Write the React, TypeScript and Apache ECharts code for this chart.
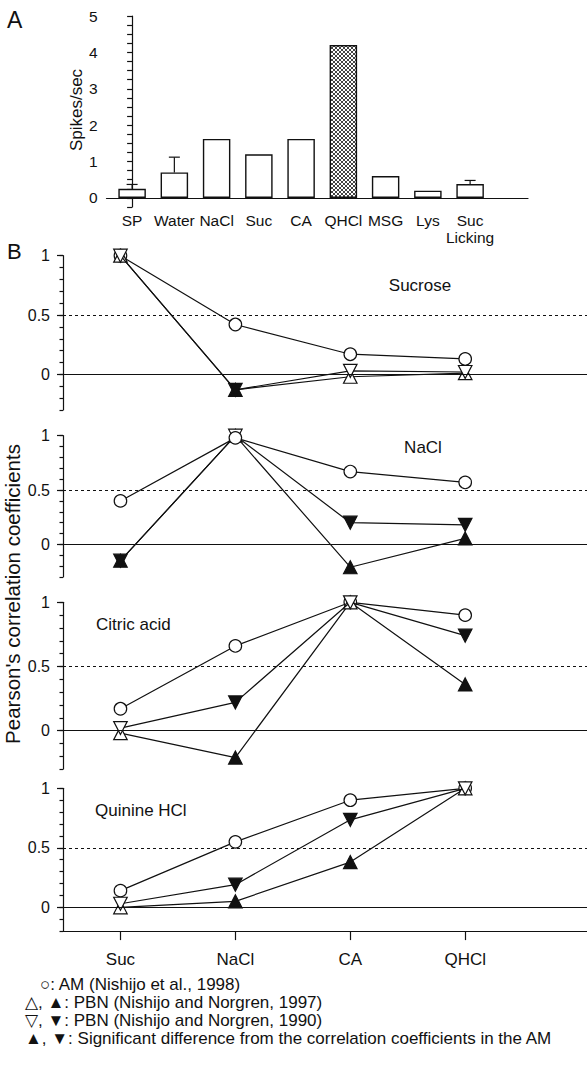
import React, { useEffect, useRef } from 'react';
import * as echarts from 'echarts';

// ---------- Panel A data ----------
const stimuli = ['SP', 'Water', 'NaCl', 'Suc', 'CA', 'QHCl', 'MSG', 'Lys', 'Suc\nLicking'];
const spikes = [0.25, 0.7, 1.62, 1.2, 1.62, 4.2, 0.6, 0.2, 0.38];
const spikesErrTop = [0.37, 1.12, null, null, null, null, null, null, 0.48];
const spikeTickLabels = ['0', '1', '2', '3', '4', '5'];

// ---------- Panel B data ----------
const tastants = ['Suc', 'NaCl', 'CA', 'QHCl'];
const panelTitles = ['Sucrose', 'NaCl', 'Citric acid', 'Quinine HCl'];
const corrTickLabels = ['0', '0.5', '1'];

const amSucrose = [1, 0.42, 0.17, 0.13];
const pbn97Sucrose = [1, -0.13, -0.02, 0.01];
const sig97Sucrose = [false, true, false, false];
const pbn90Sucrose = [1, -0.13, 0.03, 0.02];
const sig90Sucrose = [false, true, false, false];

const amNaCl = [0.4, 0.98, 0.67, 0.57];
const pbn97NaCl = [-0.15, 1, -0.21, 0.055];
const sig97NaCl = [true, false, true, true];
const pbn90NaCl = [-0.15, 1, 0.2, 0.18];
const sig90NaCl = [true, false, true, true];

const amCitric = [0.17, 0.66, 1, 0.9];
const pbn97Citric = [-0.02, -0.21, 1, 0.36];
const sig97Citric = [false, true, false, true];
const pbn90Citric = [0.02, 0.22, 1, 0.74];
const sig90Citric = [false, true, false, true];

const amQuinine = [0.14, 0.55, 0.9, 1];
const pbn97Quinine = [0.0, 0.05, 0.38, 1];
const sig97Quinine = [false, true, true, false];
const pbn90Quinine = [0.03, 0.19, 0.735, 1];
const sig90Quinine = [false, true, true, false];

const legendLines = [
  '○: AM (Nishijo et al., 1998)',
  '△, ▲: PBN (Nishijo and Norgren, 1997)',
  '▽, ▼: PBN (Nishijo and Norgren, 1990)',
  '▲, ▼: Significant difference from the correlation coefficients in the AM',
];

const panels = [
  { am: amSucrose, p97: pbn97Sucrose, s97: sig97Sucrose, p90: pbn90Sucrose, s90: sig90Sucrose },
  { am: amNaCl, p97: pbn97NaCl, s97: sig97NaCl, p90: pbn90NaCl, s90: sig90NaCl },
  { am: amCitric, p97: pbn97Citric, s97: sig97Citric, p90: pbn90Citric, s90: sig90Citric },
  { am: amQuinine, p97: pbn97Quinine, s97: sig97Quinine, p90: pbn90Quinine, s90: sig90Quinine },
];

// ---------- Layout ----------
const FONT = '"Liberation Sans", Arial, Helvetica, sans-serif';
const INK = '#111';
const bTops = [255.7, 435.7, 602.3, 788.3];
const bHeights = [154.3, 141.3, 166.8, 142.8];
const bMins = [-0.3, -0.3, -0.3, -0.2];
const titlePos = [
  { x: 420, y: 285, align: 'center' },
  { x: 423, y: 447, align: 'center' },
  { x: 96, y: 624, align: 'left' },
  { x: 95, y: 810, align: 'left' },
];

export default function App() {
  const ref = useRef<HTMLDivElement>(null);
  useEffect(() => {
    const chart = echarts.init(ref.current!, null, { renderer: 'svg' });

    const cv = document.createElement('canvas');
    cv.width = 4;
    cv.height = 4;
    const ctx = cv.getContext('2d')!;
    ctx.fillStyle = '#fff';
    ctx.fillRect(0, 0, 4, 4);
    ctx.fillStyle = '#444';
    for (let i = 0; i < 4; i++) {
      ctx.fillRect(i, i, 1, 1);
      ctx.fillRect(3 - i, i, 1, 1);
    }
    const hatch: any = { image: cv, repeat: 'repeat' };
    const hatchIndex = stimuli.indexOf('QHCl');

    const grids: any[] = [{ left: 106.5, top: 16, width: 421.5, height: 191 }];
    const xAxes: any[] = [
      {
        type: 'value',
        gridIndex: 0,
        min: -0.606,
        max: 9.37,
        splitLine: { show: false },
        axisLine: { onZero: true, lineStyle: { color: INK, width: 1.2 } },
        axisTick: { show: false },
        axisLabel: {
          customValues: stimuli.map((_, i) => i),
          formatter: (v: number) => stimuli[Math.round(v)] ?? '',
          fontSize: 15.5,
          lineHeight: 17,
          margin: 5,
          color: INK,
          fontFamily: FONT,
        },
      },
    ];
    const yAxes: any[] = [
      {
        type: 'value',
        gridIndex: 0,
        min: -0.25,
        max: 5,
        interval: 0.25,
        splitLine: { show: false },
        axisLine: { show: true, lineStyle: { color: INK, width: 1.2 } },
        axisTick: { show: true, length: 5, lineStyle: { color: INK, width: 1.2 } },
        axisLabel: {
          formatter: (v: number) => {
            const r = Math.round(v);
            return v >= 0 && Math.abs(v - r) < 1e-6 ? spikeTickLabels[r] ?? '' : '';
          },
          fontSize: 15.5,
          margin: 9,
          color: INK,
          fontFamily: FONT,
        },
      },
    ];

    const series: any[] = [
      {
        type: 'bar',
        xAxisIndex: 0,
        yAxisIndex: 0,
        barWidth: 27.5,
        itemStyle: { color: '#fff', borderColor: INK, borderWidth: 1.4 },
        data: spikes.map((v, i) => ({
          value: [i, v],
          itemStyle: i === hatchIndex ? { color: hatch } : undefined,
        })),
      },
      {
        type: 'custom',
        xAxisIndex: 0,
        yAxisIndex: 0,
        z: 3,
        data: spikesErrTop
          .map((e, i) => (e == null ? null : [i, spikes[i], e]))
          .filter((d) => d != null),
        renderItem: (params: any, api: any) => {
          const x = api.value(0);
          const p0 = api.coord([x, api.value(1)]);
          const p1 = api.coord([x, api.value(2)]);
          const st = { stroke: INK, lineWidth: 1.2 };
          return {
            type: 'group',
            children: [
              { type: 'line', shape: { x1: p0[0], y1: p0[1], x2: p1[0], y2: p1[1] }, style: st },
              { type: 'line', shape: { x1: p1[0] - 5.5, y1: p1[1], x2: p1[0] + 5.5, y2: p1[1] }, style: st },
            ],
          };
        },
      },
    ];

    const tastePos = tastants.map((_, i) => i);
    panels.forEach((p, k) => {
      const gi = k + 1;
      grids.push({ left: 63, right: 0, top: bTops[k], height: bHeights[k] });
      const isLast = k === panels.length - 1;
      xAxes.push({
        type: 'value',
        gridIndex: gi,
        min: -0.5,
        max: 4.06,
        show: isLast,
        splitLine: { show: false },
        axisLine: { onZero: false, lineStyle: { color: INK, width: 1.2 } },
        axisTick: { show: true, customValues: tastePos, length: 9, lineStyle: { color: INK, width: 1.2 } },
        axisLabel: {
          customValues: tastePos,
          formatter: (v: number) => tastants[Math.round(v)] ?? '',
          fontSize: 17,
          margin: 20,
          color: INK,
          fontFamily: FONT,
        },
      });
      yAxes.push({
        type: 'value',
        gridIndex: gi,
        min: bMins[k],
        max: 1,
        interval: 0.1,
        position: 'left',
        splitLine: { show: false },
        axisLine: { show: true, onZero: false, lineStyle: { color: INK, width: 1.2 } },
        axisTick: { show: true, length: 3.5, lineStyle: { color: INK, width: 1.2 } },
        axisLabel: {
          formatter: (v: number) => {
            const r = Math.round(v * 10) / 10;
            if (Math.abs(r) < 1e-9) return corrTickLabels[0];
            if (Math.abs(r - 0.5) < 1e-9) return corrTickLabels[1];
            if (Math.abs(r - 1) < 1e-9) return corrTickLabels[2];
            return '';
          },
          fontSize: 16,
          margin: 13,
          color: INK,
          fontFamily: FONT,
        },
      });
    });
    // overlay axes for the longer major ticks
    panels.forEach((p, k) => {
      yAxes.push({
        type: 'value',
        gridIndex: k + 1,
        min: bMins[k],
        max: 1,
        position: 'left',
        offset: 0,
        splitLine: { show: false },
        axisLine: { show: false, onZero: false },
        axisLabel: { show: false },
        axisTick: { show: true, length: 6, customValues: [0, 0.5, 1], lineStyle: { color: INK, width: 1.2 } },
      });
    });

    const lineStyle = { color: INK, width: 1.2 };
    panels.forEach((p, k) => {
      const gi = k + 1;
      series.push({
        type: 'line',
        xAxisIndex: gi,
        yAxisIndex: gi,
        z: k === 1 ? 5 : 2,
        symbol: 'circle',
        symbolSize: 12.5,
        itemStyle: { color: '#fff', borderColor: INK, borderWidth: 1.2 },
        lineStyle,
        data: p.am.map((v, i) => [i, v]),
        markLine: {
          silent: true,
          symbol: 'none',
          label: { show: false },
          data: [
            { yAxis: 0, lineStyle: { type: 'solid', color: INK, width: 1.2 } },
            { yAxis: 0.5, lineStyle: { type: [3, 3], color: INK, width: 1.2 } },
          ],
        },
      });
      series.push({
        type: 'line',
        xAxisIndex: gi,
        yAxisIndex: gi,
        z: 3,
        symbol: 'triangle',
        symbolSize: [13.5, 13],
        itemStyle: { color: '#fff', borderColor: INK, borderWidth: 1.2 },
        lineStyle,
        data: p.p97.map((v, i) => ({ value: [i, v], itemStyle: { color: p.s97[i] ? INK : '#fff' } })),
      });
      series.push({
        type: 'line',
        xAxisIndex: gi,
        yAxisIndex: gi,
        z: 4,
        symbol: 'triangle',
        symbolRotate: 180,
        symbolSize: [13.5, 13],
        itemStyle: { color: '#fff', borderColor: INK, borderWidth: 1.2 },
        lineStyle,
        data: p.p90.map((v, i) => ({ value: [i, v], itemStyle: { color: p.s90[i] ? INK : '#fff' } })),
      });
    });

    const textStyle = (extra: any) => ({ fill: INK, fontFamily: FONT, ...extra });
    const graphic: any[] = [
      { type: 'text', x: 7, y: 20, style: textStyle({ text: 'A', fontSize: 23, verticalAlign: 'middle' }) },
      { type: 'text', x: 7, y: 251, style: textStyle({ text: 'B', fontSize: 22, verticalAlign: 'middle' }) },
      {
        type: 'text',
        x: 76,
        y: 110,
        rotation: Math.PI / 2,
        style: textStyle({ text: 'Spikes/sec', fontSize: 17, align: 'center', verticalAlign: 'middle' }),
      },
      {
        type: 'text',
        x: 12,
        y: 594,
        rotation: Math.PI / 2,
        style: textStyle({ text: "Pearson's correlation coefficients", fontSize: 20.5, align: 'center', verticalAlign: 'middle' }),
      },
    ];
    panelTitles.forEach((t, k) => {
      graphic.push({
        type: 'text',
        x: titlePos[k].x,
        y: titlePos[k].y,
        style: textStyle({ text: t, fontSize: 17, align: titlePos[k].align, verticalAlign: 'middle' }),
      });
    });
    legendLines.forEach((t, i) => {
      graphic.push({
        type: 'text',
        x: i === 0 ? 40 : 25,
        y: 984 + i * 18,
        style: textStyle({ text: t, fontSize: 17, align: 'left', verticalAlign: 'middle' }),
      });
    });

    chart.setOption({
      animation: false,
      backgroundColor: '#fff',
      grid: grids,
      xAxis: xAxes,
      yAxis: yAxes,
      series,
      graphic,
    });
    return () => chart.dispose();
  }, []);

  return (
    <div
      ref={ref}
      style={{ position: 'fixed', left: 0, top: 0, width: 587, height: 1073, background: '#fff' }}
    />
  );
}
